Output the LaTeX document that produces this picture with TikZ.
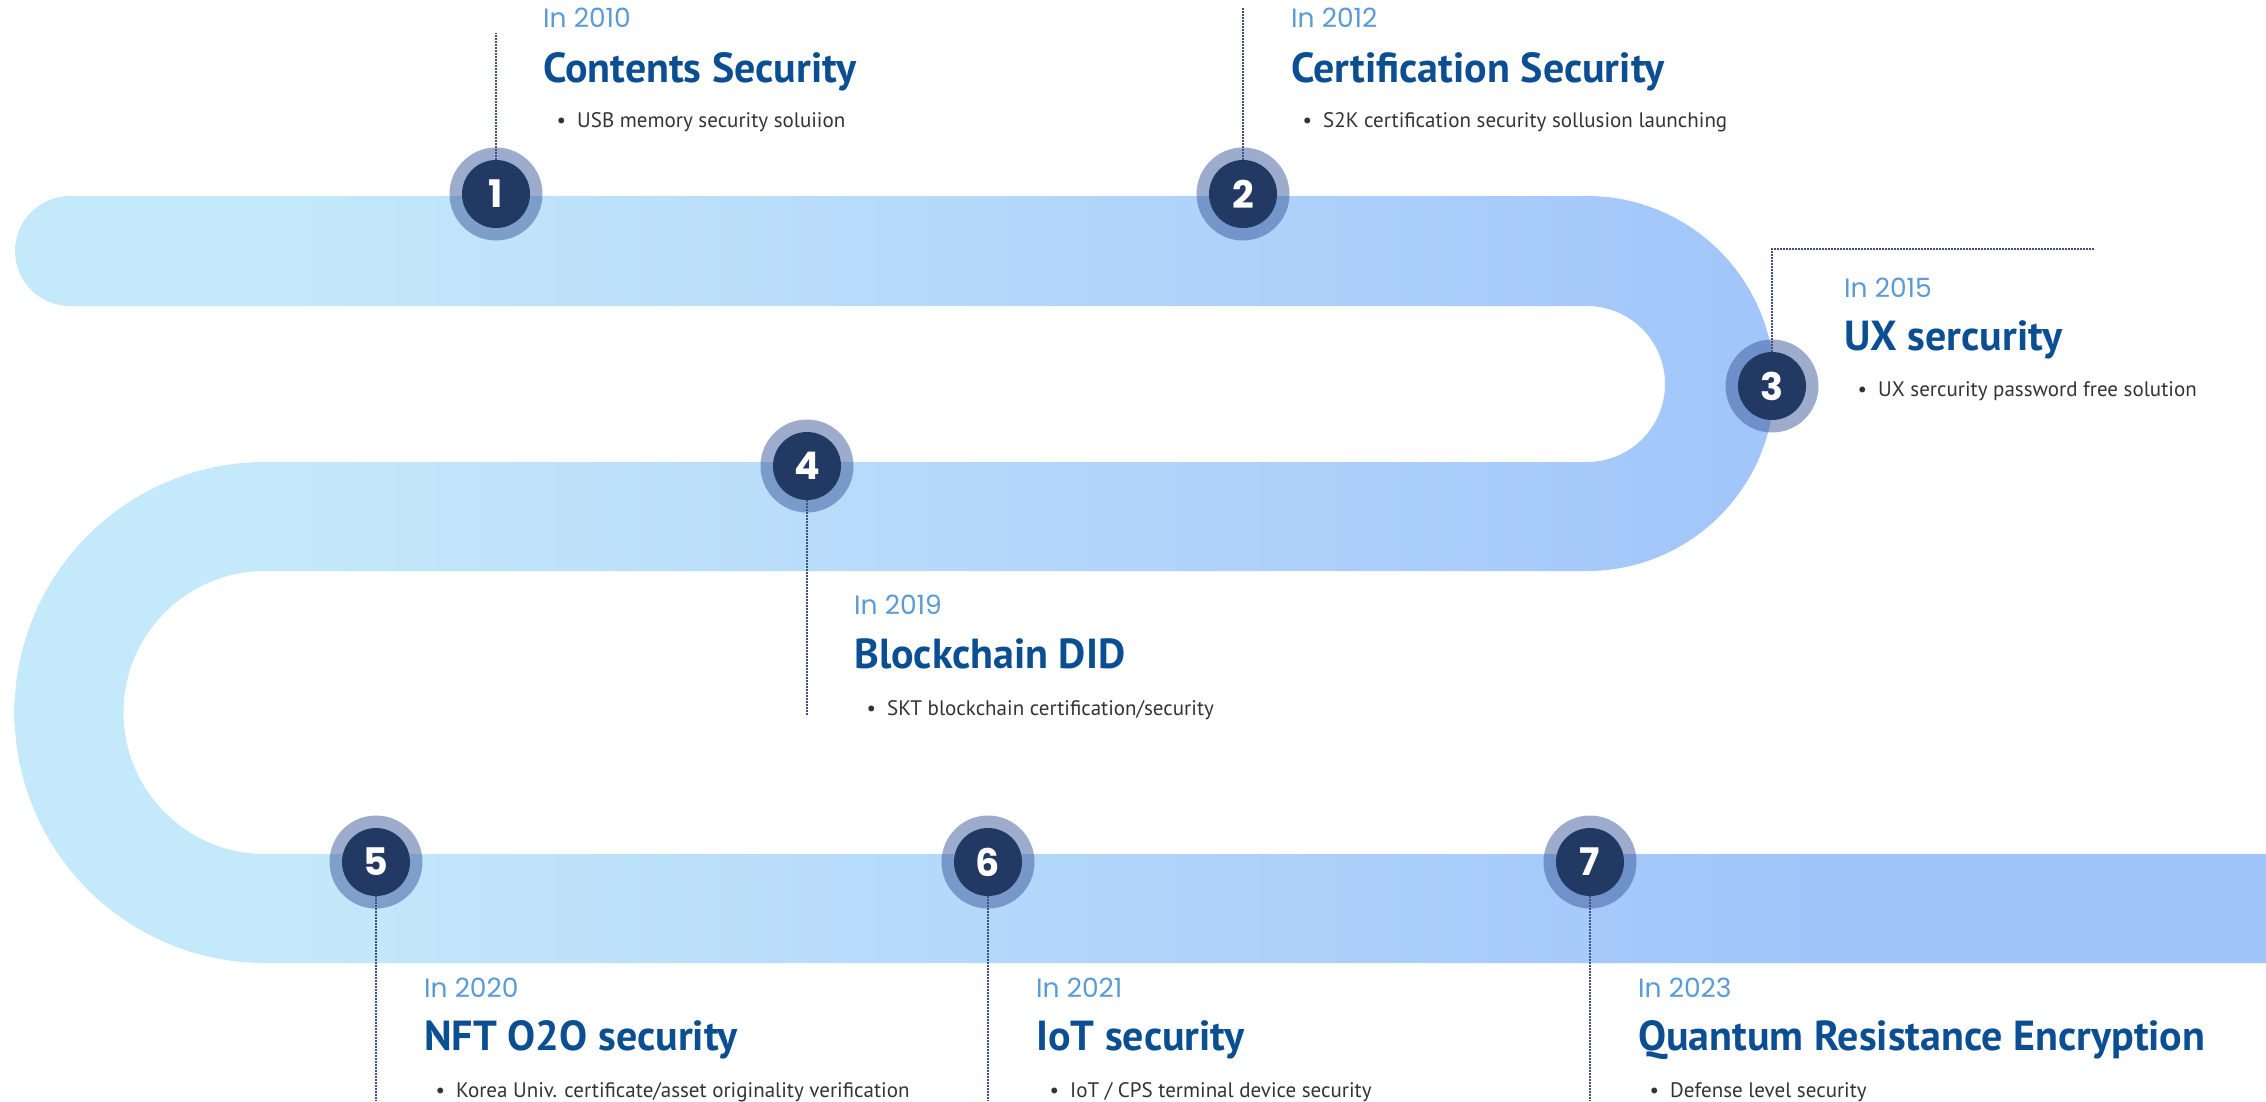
\documentclass[tikz,border=0pt]{standalone}
\usepackage{fontspec}
\setmainfont{PT Sans}
\newfontfamily\yearfont{Poppins}
\newfontfamily\numfont{Poppins}
\definecolor{bandA}{HTML}{C4E9FA}
\definecolor{bandB}{HTML}{A1C4FA}
\definecolor{navy}{HTML}{213963}
\definecolor{ringc}{HTML}{3B5A9A}
\definecolor{titlec}{HTML}{0B4F92}
\definecolor{yearc}{HTML}{5A9AD6}
\definecolor{bulletc}{HTML}{333333}
\definecolor{dotc}{HTML}{3D5282}
\pgfdeclarehorizontalshading{bandshade}{100bp}{color(0bp)=(bandA); color(31bp)=(bandA); color(65bp)=(bandB); color(100bp)=(bandB)}
\tikzset{
  ring/.style={circle, fill=ringc, fill opacity=0.5, minimum size=93pt, inner sep=0pt},
  numc/.style={circle, fill=navy, minimum size=68pt, inner sep=0pt, text=white,
    font=\numfont\bfseries\fontsize{38}{38}\selectfont},
  dline/.style={draw=dotc, line width=1.5pt, dash pattern=on 1.5pt off 1.5pt},
  year/.style={anchor=base west, inner sep=0pt, text=yearc, font=\yearfont\fontsize{26.5}{30}\selectfont},
  ttl/.style={anchor=base west, inner sep=0pt, text=titlec, font=\bfseries\fontsize{42}{48}\selectfont},
  bul/.style={anchor=base west, inner sep=0pt, text=bulletc, font=\fontsize{21}{24}\selectfont},
}
\newcommand{\bp}{\llap{\textbullet\hspace{11pt}}}
\begin{document}
\begin{tikzpicture}[x=1pt,y=-1pt]
\useasboundingbox (0,0) rectangle (2266,1101);
% band
\shade[shading=bandshade] (70,196) -- (1587,196) arc[start angle=-90, end angle=90, radius=187.5]
  -- (265,571) arc[start angle=-90, end angle=-270, radius=141.5]
  -- (2266,854) -- (2266,963) -- (265,963) arc[start angle=90, end angle=270, radius=250.5]
  -- (1587,462) arc[start angle=90, end angle=-90, radius=78]
  -- (70,306) arc[start angle=90, end angle=270, radius=55] -- cycle;
% rings
\node[ring] (r1) at (496,194) {};
\node[ring] (r2) at (1243,194) {};
\node[ring] (r3) at (1772,386) {};
\node[ring] (r4) at (807,466) {};
\node[ring] (r5) at (376,862) {};
\node[ring] (r6) at (988,862) {};
\node[ring] (r7) at (1590,862) {};
% line ends
\coordinate (t1) at (496,33);
\coordinate (t2) at (1243,7);
\coordinate (t3) at (2095,249);
\coordinate (t4) at (807,716);
\coordinate (t5) at (376,1101);
\coordinate (t6) at (988,1101);
\coordinate (t7) at (1590,1101);
% numbers
\node[numc] (n1) at (r1) {1};
\node[numc] (n2) at (r2) {2};
\node[numc] (n3) at (r3) {3};
\node[numc] (n4) at (r4) {4};
\node[numc] (n5) at (r5) {5};
\node[numc] (n6) at (r6) {6};
\node[numc] (n7) at (r7) {7};
% dotted connectors
\draw[dline] (n1) -- (t1);
\draw[dline] (n2) -- (t2);
\draw[dline] (n3) |- (t3);
\draw[dline] (n4) -- (t4);
\draw[dline] (n5) -- (t5);
\draw[dline] (n6) -- (t6);
\draw[dline] (n7) -- (t7);
% texts
\node[year] (y1) at (543,27) {In 2010};
\node[ttl] (h1) at (543,82) {Contents Security};
\node[bul] (b1) at (577,127) {\bp USB memory security soluiion};
\node[year] (y2) at (1291,27) {In 2012};
\node[ttl] (h2) at (1291,82) {Certification Security};
\node[bul] (b2) at (1323,127) {\bp S2K certification security sollusion launching};
\node[year] (y3) at (1844,297) {In 2015};
\node[ttl] (h3) at (1844,350) {UX sercurity};
\node[bul] (b3) at (1878,396) {\bp UX sercurity password free solution};
\node[year] (y4) at (854,614) {In 2019};
\node[ttl] (h4) at (854,668) {Blockchain DID};
\node[bul] (b4) at (887,715) {\bp SKT blockchain certification/security};
\node[year] (y5) at (424,997) {In 2020};
\node[ttl] (h5) at (424,1050) {NFT O2O security};
\node[bul] (b5) at (456,1097) {\bp Korea Univ. certificate/asset originality verification};
\node[year] (y6) at (1036,997) {In 2021};
\node[ttl] (h6) at (1036,1050) {IoT security};
\node[bul] (b6) at (1070,1097) {\bp IoT / CPS terminal device security};
\node[year] (y7) at (1638,997) {In 2023};
\node[ttl] (h7) at (1638,1050) {Quantum Resistance Encryption};
\node[bul] (b7) at (1670,1097) {\bp Defense level security};
\end{tikzpicture}
\end{document}
